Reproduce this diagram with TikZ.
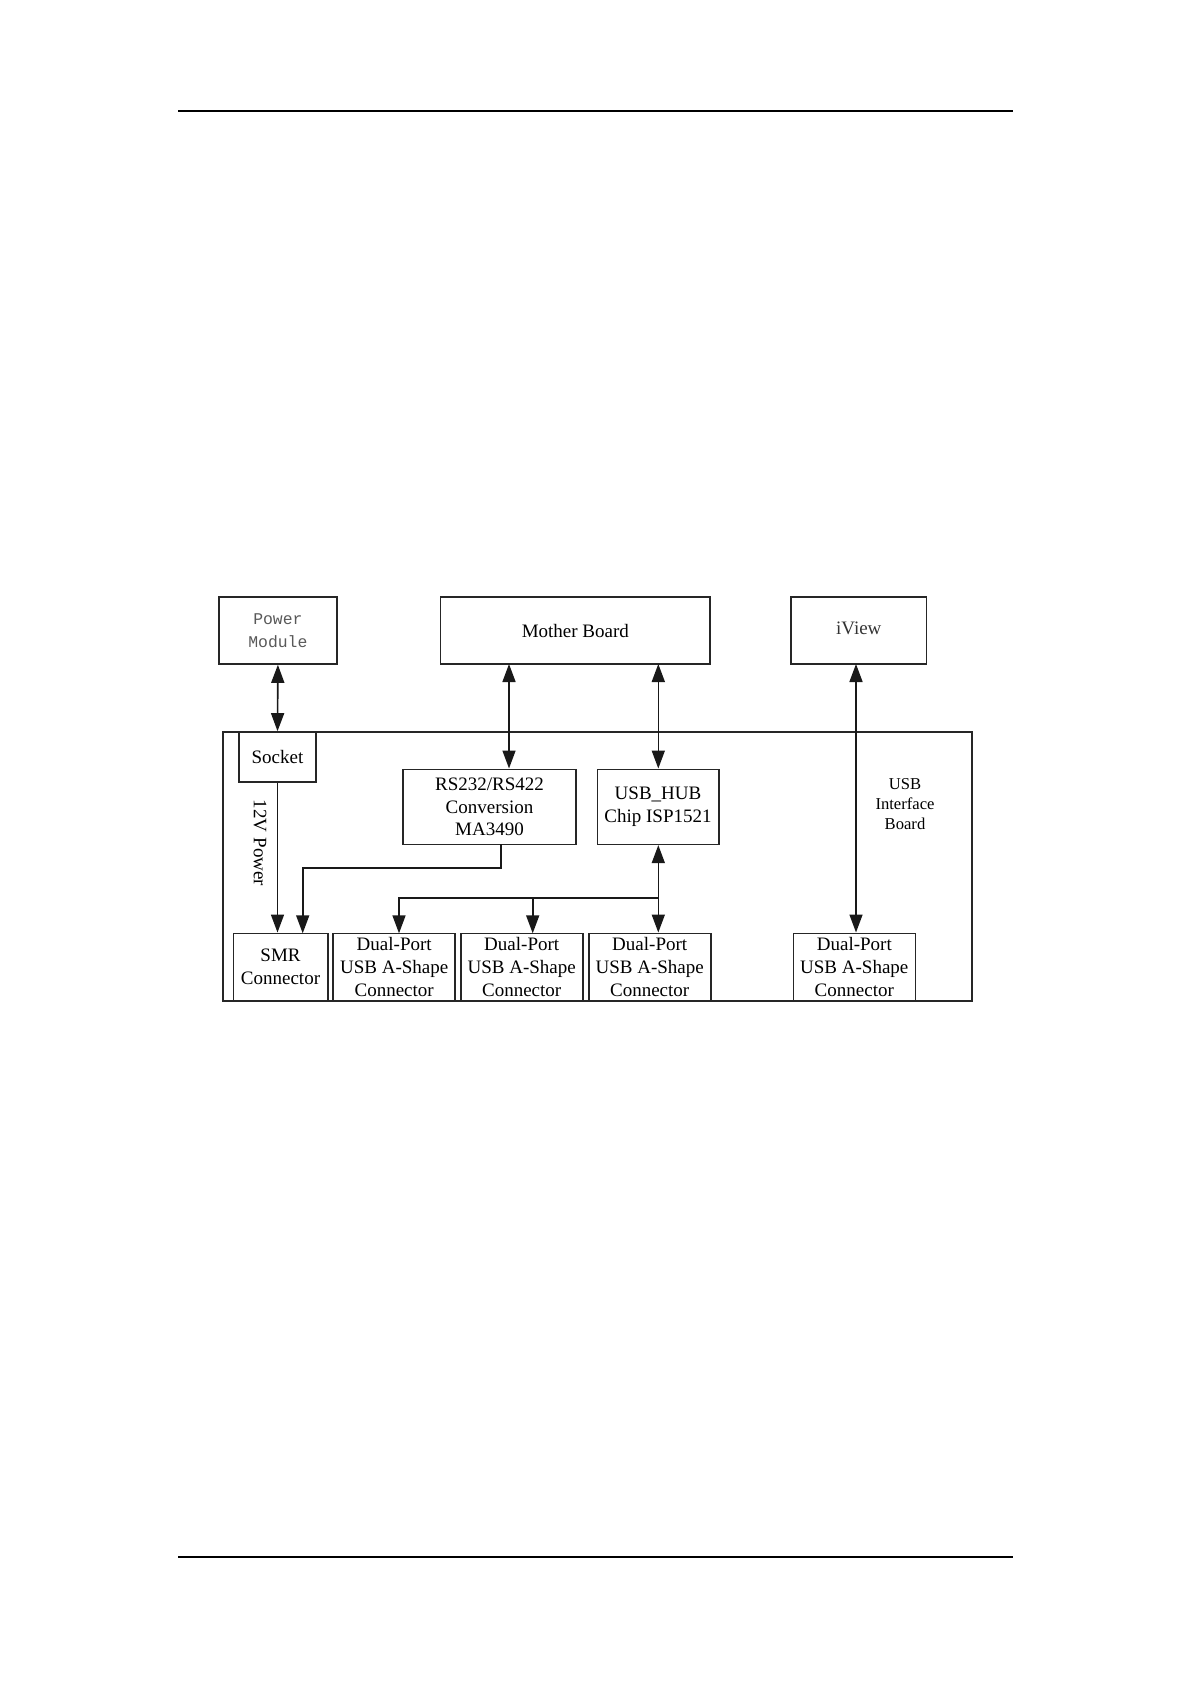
\documentclass[tikz,border=0pt]{standalone}
\usepackage{fontspec}
\setmainfont{Liberation Serif}
\setmonofont{Liberation Mono}
\usetikzlibrary{positioning, arrows.meta, calc}

\begin{document}
\begin{tikzpicture}[x=0.5pt, y=-0.5pt,
    >={Triangle[length=9pt, width=6.5pt]},
    blk/.style={rectangle, draw=black!85, line width=0.8pt, inner sep=0pt,
                align=center, font=\fontsize{9.5}{11.3}\selectfont},
    conn/.style={blk, minimum width=61pt, minimum height=33.7pt},
    arr/.style={->, black!90, line width=0.8pt},
    darr/.style={<->, black!90, line width=0.8pt},
  ]
    \useasboundingbox (0,0) rectangle (1190,1684);
    % page rules
    \draw[line width=1.2pt] (178,111) -- (1013,111);
    \draw[line width=0.6pt] (178,1557) -- (1013,1557);

    % outer units
    \node[blk, minimum width=58.85pt, minimum height=33.5pt, text=black!65,
          font=\ttfamily\fontsize{8.2}{11.3}\selectfont] (power) at (277.9,630.5) {Power\\Module};
    \node[blk, minimum width=134.65pt, minimum height=33.5pt] (mother) at (575.3,630.5) {Mother Board};
    \node[blk, minimum width=67.85pt, minimum height=33.5pt, text=black!80] (iview) at (858.8,630.5) {\raisebox{2.5pt}{iView}};

    % interface board
    \node[blk, minimum width=374.5pt, minimum height=134.5pt] (board) at (597.2,866.2) {};
    \node[blk, draw=none, font=\fontsize{8.3}{10}\selectfont] (boardlbl) at (905,804.5) {USB\\Interface\\Board};
    \node[blk, minimum width=38.5pt, minimum height=25pt] (socket) at (277.5,757) {Socket};
    \node[blk, minimum width=86.5pt, minimum height=37.5pt] (rs) at (489.5,806.8) {RS232/RS422\\Conversion\\MA3490};
    \node[blk, minimum width=60.7pt, minimum height=37.5pt] (hub) at (658,806.8) {USB\_HUB\\Chip ISP1521};

    \node[blk, minimum width=47.2pt, minimum height=33.7pt] (smr) at (280.5,967) {SMR\\Connector};
    \node[conn] (dpa) at (394.2,967) {Dual-Port\\USB A-Shape\\Connector};
    \node[conn] (dpb) at (521.7,967) {Dual-Port\\USB A-Shape\\Connector};
    \node[conn] (dpc) at (649.7,967) {Dual-Port\\USB A-Shape\\Connector};
    \node[conn] (dpd) at (854.3,967) {Dual-Port\\USB A-Shape\\Connector};

    \node[blk, draw=none, rotate=-90] (pwrlbl) at (260,843) {12V Power};

    % links
    \coordinate (mbl) at (509,664);
    \coordinate (mbr) at (658.3,664);
    \coordinate (ivb) at (856,664);
    \coordinate (rsb) at (501,844.3);
    \coordinate (split) at (658.3,897.7);

    \draw[darr] (power.south) -- (socket.north);
    \draw[darr] (mbl) -- (mbl |- rs.north);
    \draw[darr] (mbr) -- (mbr |- hub.north);
    \draw[darr] (ivb) -- (ivb |- dpd.north);
    \draw[arr] (socket.south) -- (socket.south |- smr.north);
    \draw[arr] (rsb) -- ++(0,23.4) -| (302.7,933.3);
    \draw[darr] (mbr |- hub.south) -- (mbr |- dpc.north);
    \draw[arr] (split) -| (399,933.3);
    \draw[arr] (532.7,897.7) -- (532.7,933.3);
\end{tikzpicture}
\end{document}
